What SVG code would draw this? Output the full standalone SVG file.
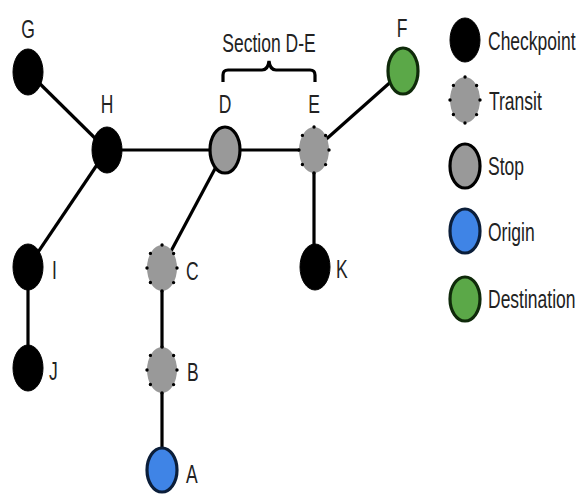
<svg xmlns="http://www.w3.org/2000/svg" width="581" height="494" viewBox="0 0 581 494">
<style>
.edge{stroke:#000;stroke-width:3.2;fill:none}
.chk{fill:#000;stroke:#000;stroke-width:1}
.tr{fill:#999;stroke:#000;stroke-width:3.4;stroke-linecap:round;stroke-dasharray:0 15}
.stop{fill:#999;stroke:#000;stroke-width:3.2}
.org{fill:#3f84e6;stroke:#0b1e3a;stroke-width:3.2}
.dst{fill:#5ba848;stroke:#0f2a0a;stroke-width:3.2}
text{font-family:"Liberation Sans",Arial,sans-serif;font-size:17.5px;fill:#222}
.m{text-anchor:middle}
</style>
<rect width="581" height="494" fill="#fff"/>
<g id="connectors">
<line class="edge" x1="28" y1="72" x2="107" y2="150"/>
<line class="edge" x1="107" y1="150" x2="225" y2="150"/>
<line class="edge" x1="225" y1="150" x2="314" y2="150"/>
<line class="edge" x1="314" y1="150" x2="403" y2="71"/>
<line class="edge" x1="107" y1="150" x2="28" y2="267"/>
<line class="edge" x1="28" y1="267" x2="28" y2="368"/>
<line class="edge" x1="225" y1="150" x2="162" y2="268"/>
<line class="edge" x1="162" y1="268" x2="162" y2="370"/>
<line class="edge" x1="162" y1="370" x2="162" y2="470"/>
<line class="edge" x1="314" y1="150" x2="314" y2="267"/>
</g>
<g id="brace">
<path class="edge" stroke-width="2.5" d="M223,82 V75 Q223,70 228,70 H262 Q268,70 269,61 Q270,70 276,70 H310 Q315,70 315,75 V82"/>
<text class="m" transform="translate(269,52) scale(1,1.5)">Section D-E</text>
</g>
<g id="G"><ellipse class="chk" cx="28" cy="72" rx="15" ry="23"/><text class="m" transform="translate(28,38) scale(1,1.5)">G</text></g>
<g id="H"><ellipse class="chk" cx="107" cy="150" rx="15" ry="23"/><text class="m" transform="translate(107,113) scale(1,1.5)">H</text></g>
<g id="D"><ellipse class="stop" cx="225" cy="150" rx="15" ry="23"/><text class="m" transform="translate(225,113) scale(1,1.5)">D</text></g>
<g id="E"><ellipse class="tr" cx="314" cy="150" rx="15" ry="23"/><text class="m" transform="translate(314,113) scale(1,1.5)">E</text></g>
<g id="F"><ellipse class="dst" cx="403" cy="71" rx="15" ry="23"/><text class="m" transform="translate(402,37) scale(1,1.5)">F</text></g>
<g id="I"><ellipse class="chk" cx="28" cy="267" rx="15" ry="23"/><text transform="translate(52,279) scale(1,1.5)">I</text></g>
<g id="J"><ellipse class="chk" cx="28" cy="368" rx="15" ry="23"/><text transform="translate(49,380) scale(1,1.5)">J</text></g>
<g id="C"><ellipse class="tr" cx="162" cy="268" rx="15" ry="23"/><text transform="translate(186,280) scale(1,1.5)">C</text></g>
<g id="B"><ellipse class="tr" cx="162" cy="370" rx="15" ry="23"/><text transform="translate(187,381) scale(1,1.5)">B</text></g>
<g id="A"><ellipse class="org" cx="162" cy="470" rx="15" ry="22"/><text transform="translate(186,483) scale(1,1.5)">A</text></g>
<g id="K"><ellipse class="chk" cx="315" cy="267" rx="15" ry="23"/><text transform="translate(336,278) scale(1,1.5)">K</text></g>
<g id="legend">
<ellipse class="chk" cx="465" cy="40" rx="15" ry="22"/><text transform="translate(488,50) scale(1,1.5)">Checkpoint</text>
<ellipse class="tr" cx="465" cy="100" rx="15" ry="23"/><text transform="translate(489,110) scale(1,1.5)">Transit</text>
<ellipse class="stop" cx="465" cy="166" rx="15" ry="22"/><text transform="translate(488,175) scale(1,1.5)">Stop</text>
<ellipse class="org" cx="465" cy="231" rx="15" ry="22"/><text transform="translate(488,241) scale(1,1.5)">Origin</text>
<ellipse class="dst" cx="465" cy="299" rx="15" ry="22"/><text transform="translate(488,308) scale(1,1.5)">Destination</text>
</g>
</svg>
